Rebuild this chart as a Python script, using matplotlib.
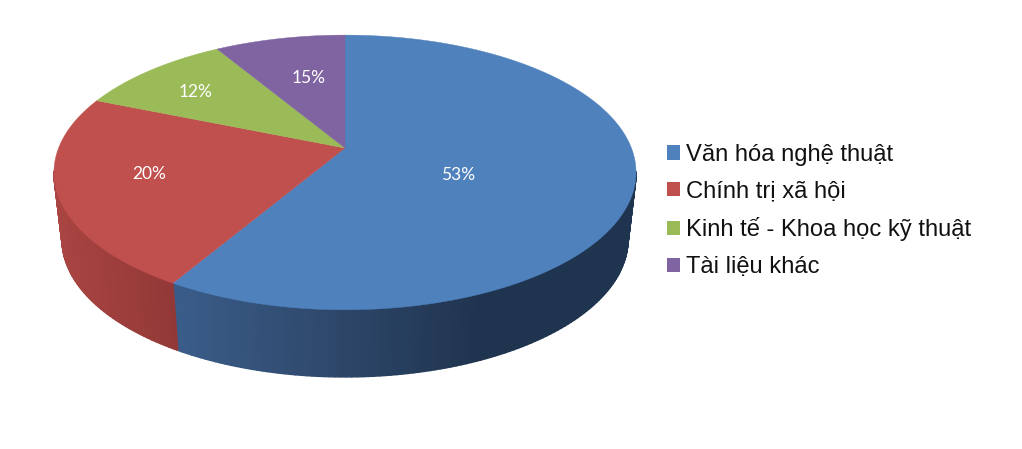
import numpy as np
import matplotlib
matplotlib.use("Agg")
import matplotlib.pyplot as plt
from matplotlib.collections import PolyCollection
from matplotlib.patches import Patch

categories = ["Văn hóa nghệ thuật", "Chính trị xã hội", "Kinh tế - Khoa học kỹ thuật", "Tài liệu khác"]
# slice sizes as drawn, the printed labels do not agree with them
slice_sizes = [58.5, 22.7, 10.2, 8.6]
pct_labels = ["53%", "20%", "12%", "15%"]

colors = ["#4F81BD", "#C0504D", "#9BBB59", "#8064A2"]
label_xy = [(458, 175), (149, 174), (196, 92), (309, 78)]

# side wall colour stops (pixel x, rgb)
side_stops = {
    0: ([178, 345, 480, 640], [(58, 92, 136), (45, 70, 104), (31, 52, 79), (31, 52, 79)]),
    1: ([50, 178], [(170, 69, 67), (145, 56, 54)]),
}

# tilted circle seen in perspective
cx, cy = 345, 148
R, A, k = 286.4, 133, 0.178
depth, shrink = 67, 0.972


def project(t):
    # t is the clockwise angle from 12 o'clock in radians
    X, Y = np.sin(t), np.cos(t)
    s = 1 / (1 + k * Y)
    return cx + R * X * s, cy - A * Y * s


def side_color(i, x):
    xs, cols = side_stops[i]
    rgb = [np.interp(x, xs, [c[j] for c in cols]) / 255 for j in range(3)]
    return rgb


fig = plt.figure(figsize=(10.22, 4.49), dpi=100)
ax = fig.add_axes([0, 0, 1, 1])
ax.set_xlim(0, 1022)
ax.set_ylim(449, 0)
ax.axis("off")

edges = np.concatenate([[0], np.cumsum(slice_sizes)]) / np.sum(slice_sizes) * 2 * np.pi

# side wall, thin strips so the shading can change along it
# only the front part shows, the back is behind the top face
polys, fc = [], []
for i in side_stops:
    ts = np.linspace(edges[i], edges[i + 1], max(int((edges[i + 1] - edges[i]) * 60), 2))
    for a, b in zip(ts[:-1], ts[1:]):
        if np.cos(a) > -k and np.cos(b) > -k:
            continue
        xa, ya = project(a)
        xb, yb = project(b)
        xa2 = cx + (xa - cx) * shrink
        xb2 = cx + (xb - cx) * shrink
        polys.append([(xa, ya), (xb, yb), (xb2, yb + depth), (xa2, ya + depth)])
        fc.append(side_color(i, (xa + xb) / 2))
ax.add_collection(PolyCollection(polys, facecolors=fc, edgecolors="face", linewidths=1.2, zorder=1))

# top face
for i in range(len(slice_sizes)):
    ts = np.linspace(edges[i], edges[i + 1], 200)
    xs, ys = project(ts)
    ax.fill(np.r_[cx, xs], np.r_[cy, ys], color=colors[i], lw=0.3, zorder=2)

for txt, (x, y) in zip(pct_labels, label_xy):
    ax.text(x, y, txt, color="white", fontsize=12.5, family="Lato", ha="center", va="center", zorder=3)

handles = [Patch(facecolor=c, edgecolor="none") for c in colors]
ax.legend(handles, categories, loc="center left", bbox_to_anchor=(662 / 1022, 1 - 211 / 449),
          frameon=False, prop={"family": "Liberation Sans", "size": 17.1},
          handlelength=0.55, handleheight=0.55, handletextpad=0.25, labelspacing=0.62,
          borderpad=0, borderaxespad=0.2, labelcolor="#111111")

fig.savefig("out.png", dpi=100)
